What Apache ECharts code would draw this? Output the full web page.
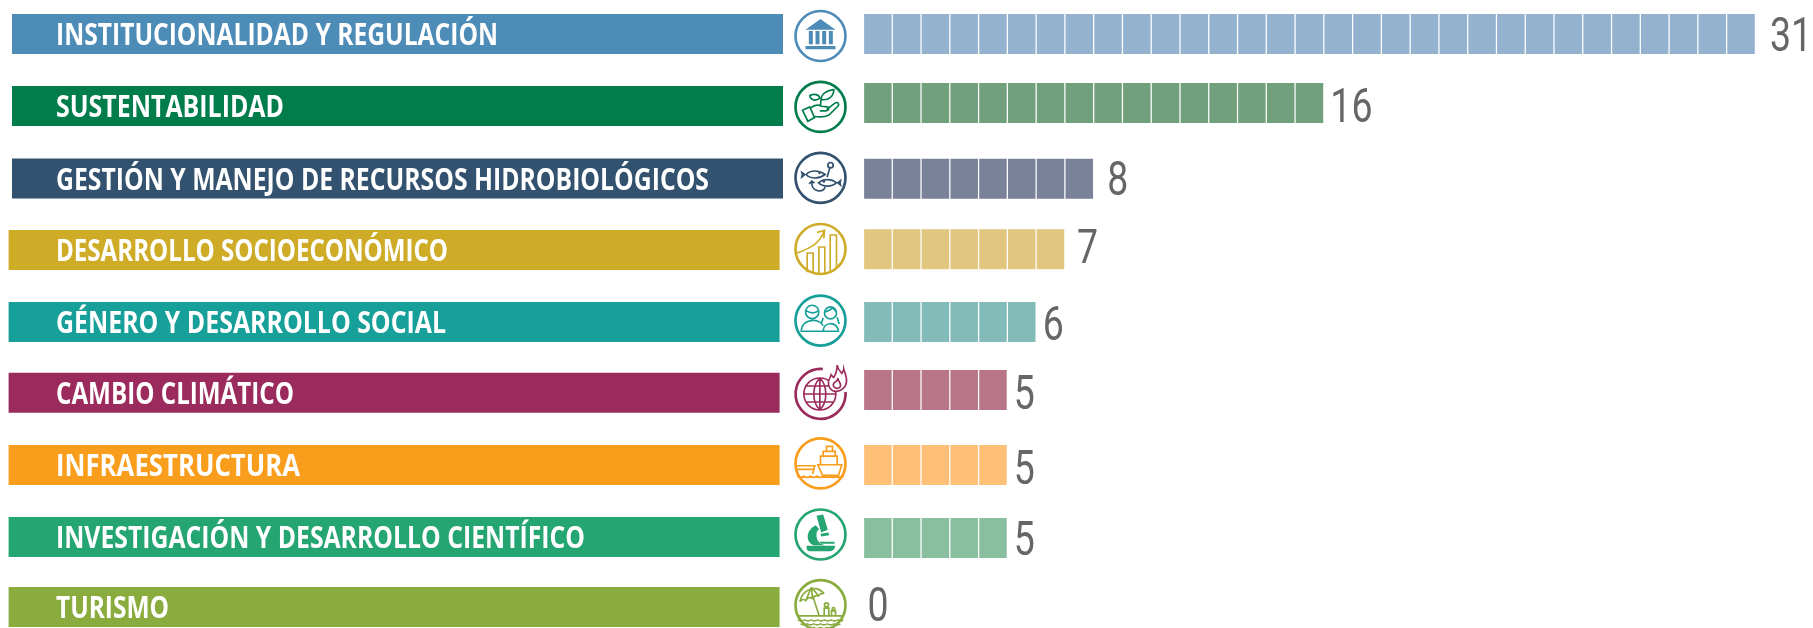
<!DOCTYPE html>
<html>
<head>
<meta charset="utf-8">
<title>Temas</title>
<style>
  html, body { margin: 0; padding: 0; background: #fff; }
  #chart { width: 1813px; height: 628px; }
</style>
<script src="https://cdn.jsdelivr.net/npm/echarts@6/dist/echarts.min.js"></script>
</head>
<body>
<div id="chart"></div>
<script>
// datos
const categories = [
  "INSTITUCIONALIDAD Y REGULACIÓN",
  "SUSTENTABILIDAD",
  "GESTIÓN Y MANEJO DE RECURSOS HIDROBIOLÓGICOS",
  "DESARROLLO SOCIOECONÓMICO",
  "GÉNERO Y DESARROLLO SOCIAL",
  "CAMBIO CLIMÁTICO",
  "INFRAESTRUCTURA",
  "INVESTIGACIÓN Y DESARROLLO CIENTÍFICO",
  "TURISMO",
];
const values = [31, 16, 8, 7, 6, 5, 5, 5, 0];

// colores
const bandColors = ["#4e8cb8", "#007d4b", "#33526f", "#ceac28", "#179f99", "#9b2b5c", "#f99d1c", "#24a572", "#8aac3e"];
const cellColors = ["#94b1ce", "#71a07c", "#798299", "#e0c67e", "#83bbb8", "#b97689", "#fdc076", "#88c09f", "#ccc"];

// ajustes finos por fila (px), la pieza original no esta alineada exacta
const bandLeft = [-851.5, -851.5, -851.5, -854.9, -854.9, -854.9, -854.9, -854.9, -854.9];
const bandNudge = [0, 0, 0.7, 0.3, 0.4, -0.8, -0.5, -0.3, -2.2];
const cellNudge = [0, -3, 1, -0.4, 0.4, -3.5, -0.4, 0.7, 0];
const iconNudge = [2, 1, 0, -0.7, -1, 0.5, -2, -2.8, -4];
const labelNudge = [5, 4, 5.5, 1.5, 6.6, 3.7, 6.8, 5.9, 0.2];
const labelGap = [14.5, 6.5, 13.5, 12, 6.5, 6.5, 6.5, 6.5, 4];
const textWidths = [442, 228, 653, 392, 390, 238, 244, 529, 113];

const BAND_FONT = '700 30px "Open Sans"';
const VALUE_FONT = '400 48px Roboto';
const VALUE_SCALE = 0.78;
const TEXT_DROP = 2.5;

const measure = document.createElement("canvas").getContext("2d");
function fitScale(text, font, width) {
  measure.font = font;
  return width / measure.measureText(text).width;
}

// iconos: trazos dibujados en unidades de 1/3 px, centrados en el circulo
const RING = "M75,0 A75,75 0 1 1 -75,0 A75,75 0 1 1 75,0 Z";
const icons = [
  { fill: "M-45,-19 L0,-51 L45,-19 Z M-35,-15 L-23,-15 L-23,25 L-35,25 Z M-15,-15 L-3,-15 L-3,25 L-15,25 Z M5,-15 L17,-15 L17,25 L5,25 Z M25,-15 L37,-15 L37,25 L25,25 Z M-45,30 L45,30 L45,40 L-45,40 Z" },
  { line: "M-54,10 L-32,0 L-18,32 L-38,43 Z M-30,4 C-20,-6 -8,-8 4,-2 L20,0 C28,2 26,12 16,12 L-2,12 M18,8 L44,-12 C52,-16 58,-8 52,-2 L26,24 C10,32 -10,30 -20,28 M0,-4 L2,-28 M2,-22 C2,-40 20,-50 40,-52 C40,-34 26,-18 2,-22 M-2,-26 C-14,-16 -30,-20 -32,-34 C-20,-40 -4,-38 -2,-26" },
  { line: "M-43,-10 C-30,-24 -5,-24 14,-10 C-5,4 -30,4 -43,-10 Z M-6,15 C8,2 33,2 48,15 C33,28 8,28 -6,15 Z M38,-38 A8,8 0 1 1 22,-38 A8,8 0 1 1 38,-38 Z M28,-30 L20,-2 M14,28 C8,44 -22,44 -26,20 L-26,10 M-34,18 L-26,10 L-18,16",
    fill: "M-43,-10 L-60,-22 L-57,-10 L-60,4 Z M48,15 L64,2 L61,15 L64,28 Z M1,-15 A4,4 0 1 1 -7,-15 A4,4 0 1 1 1,-15 Z M14,11 A4,4 0 1 1 6,11 A4,4 0 1 1 14,11 Z" },
  { line: "M-40,70 L-40,12 L-22,12 L-22,72 M-5,74 L-5,-6 L13,-6 L13,74 M29,70 L29,-42 L48,-42 L48,60 M-70,12 C-40,0 -5,-10 11,-54 M-10,-50 L12,-56 L10,-32" },
  { line: "M-5,-26 A20,20 0 1 1 -45,-26 A20,20 0 1 1 -5,-26 Z M-44,-30 C-30,-22 -15,-22 -6,-30 M48,-23 A18,18 0 1 1 12,-23 A18,18 0 1 1 48,-23 Z M12,-25 C24,-28 34,-36 38,-38 C42,-32 46,-28 48,-24 M8,-8 C6,0 4,4 2,8 M50,-10 C52,-2 54,4 56,10 M-58,30 C-55,-5 -5,-10 8,15 M8,30 C10,5 45,0 54,30 M-60,32 L56,32" },
  { ring: "M7,-75 A75,75 0 1 0 75,-6",
    line: "M46,0 A48,48 0 1 1 -50,0 A48,48 0 1 1 46,0 Z M-2,-48 C-26,-24 -26,24 -2,48 M-2,-48 C22,-24 22,24 -2,48 M-2,-48 L-2,48 M-50,0 L46,0 M-42,-24 L38,-24 M-42,24 L38,24",
    flame: "M50,-87 C52,-72 60,-66 64,-62 C68,-68 70,-72 70,-74 C74,-60 80,-50 78,-36 C76,-18 60,-8 46,-8 C30,-8 22,-24 24,-38 C26,-46 30,-50 32,-58 C36,-52 38,-50 40,-50 C46,-60 50,-72 50,-87 Z M52,-48 C52,-38 62,-34 60,-24 C58,-16 46,-14 40,-22 C36,-28 40,-34 44,-36 C48,-38 52,-42 52,-48 Z" },
  { line: "M18,-36 L18,-51 L36,-51 L36,-36 M8,-22 L8,-36 L44,-36 L44,-22 M0,4 L0,-22 L50,-22 L50,4 M-8,4 L64,4 L54,36 L6,36 Z M-72,7 L-17,7 L-24,32 M-72,18 L-20,18 M-70,38 Q-60,46 -50,38 Q-40,46 -30,38 Q-20,46 -10,38 Q0,46 10,38 Q20,46 30,38 Q40,46 50,38 Q60,46 70,38" },
  { fill: "M-12,-56 L8,-60 L22,-14 L2,-6 Z M-14,-28 C-44,-14 -46,22 -20,32 L12,32 C0,28 -14,20 -12,-2 C-12,-8 -8,-14 -4,-16 Z M0,-2 L24,-6 L26,2 L2,6 Z M-2,22 L42,22 L42,28 L-2,28 Z M-42,34 L44,34 C44,44 36,50 30,50 L-34,50 C-40,50 -42,44 -42,34 Z" },
  { line: "M-62,-10 C-55,-45 -15,-65 11,-35 M-62,-10 Q-54,-22 -44,-14 Q-36,-28 -24,-20 Q-16,-32 -6,-28 Q0,-38 11,-35 M-27,-54 L-44,-14 M-27,-54 L-24,-20 M-27,-54 L-6,-28 M-26,-36 L-4,32 M-68,32 L68,32 M-68,44 Q-58,50 -48,44 Q-38,50 -28,44 Q-18,50 -8,44 Q2,50 12,44 Q22,50 32,44 Q42,50 52,44 Q62,50 68,44 M-60,56 Q-50,62 -40,56 Q-30,62 -20,56 Q-10,62 0,56 Q10,62 20,56 Q30,62 40,56 Q50,62 60,56 M-40,67 Q-30,73 -20,67 Q-10,73 0,67 Q10,73 20,67 Q30,73 40,67 M24,-1 A6,6 0 1 1 12,-1 A6,6 0 1 1 24,-1 Z M11,32 L11,9 L25,9 L25,32 M43,11 A4,4 0 1 1 35,11 A4,4 0 1 1 43,11 Z M33,32 L33,17 L45,17 L45,32" },
];

function renderBand(params, api) {
  const i = api.value(0);
  const p = api.coord([0, i]);
  const y = p[1] + bandNudge[i];
  return {
    type: "group",
    children: [
      { type: "rect", shape: { x: p[0] + bandLeft[i], y: y - 20, width: 771, height: 40 }, style: { fill: bandColors[i] } },
      {
        type: "text",
        x: 56, y: y + TEXT_DROP,
        scaleX: fitScale(categories[i], BAND_FONT, textWidths[i]),
        style: {
          text: categories[i], fill: "#fff",
          font: BAND_FONT,
          textAlign: "left", textVerticalAlign: "middle",
        },
      },
    ],
  };
}

function renderIcon(params, api) {
  const i = api.value(0);
  const p = api.coord([0, i]);
  const c = bandColors[i];
  const ic = icons[i];
  const children = [
    { type: "path", shape: { pathData: ic.ring || RING }, style: { fill: "none", stroke: c, lineWidth: 8 } },
  ];
  if (ic.line) children.push({ type: "path", shape: { pathData: ic.line }, style: { fill: "none", stroke: c, lineWidth: 5 } });
  if (ic.fill) children.push({ type: "path", shape: { pathData: ic.fill }, style: { fill: c } });
  if (ic.flame) children.push({ type: "path", shape: { pathData: ic.flame }, style: { fill: "#fff", stroke: c, lineWidth: 5 } });
  return {
    type: "group",
    x: p[0] - 43,
    y: p[1] + iconNudge[i],
    scaleX: 1 / 3,
    scaleY: 1 / 3,
    children: children,
  };
}

function renderValue(params, api) {
  const i = api.value(0);
  const p = api.coord([api.value(1), i]);
  return {
    type: "text",
    x: p[0] + labelGap[i],
    y: p[1] + labelNudge[i],
    scaleX: VALUE_SCALE,
    style: {
      text: String(api.value(1)), fill: "#666",
      font: VALUE_FONT,
      textAlign: "left", textVerticalAlign: "middle",
    },
  };
}

let myChart = echarts.init(document.getElementById("chart"), null, { renderer: "canvas" });

let option = {
  animation: false,
  backgroundColor: "#fff",
  grid: { left: 863.5, width: 891.9, top: -1.95, height: 647.1, outerBoundsMode: "none" },
  xAxis: { type: "value", min: 0, max: 31, show: false },
  yAxis: { type: "category", data: categories, inverse: true, show: false },
  series: [
    {
      type: "pictorialBar",
      symbol: "rect",
      symbolSize: [27.5, 40],
      symbolRepeat: true,
      symbolMargin: "0.65!",
      symbolPosition: "start",
      data: values.map((v, i) => ({
        value: v,
        symbolOffset: [0, cellNudge[i]],
        itemStyle: { color: cellColors[i] },
      })),
    },
    { type: "custom", renderItem: renderBand, data: categories.map((c, i) => [i]), encode: { y: 0 }, clip: false, silent: true },
    { type: "custom", renderItem: renderIcon, data: categories.map((c, i) => [i]), encode: { y: 0 }, clip: false, silent: true },
    { type: "custom", renderItem: renderValue, data: values.map((v, i) => [i, v]), encode: { y: 0, x: 1 }, clip: false, silent: true },
  ],
};

myChart.setOption(option);
</script>
</body>
</html>
